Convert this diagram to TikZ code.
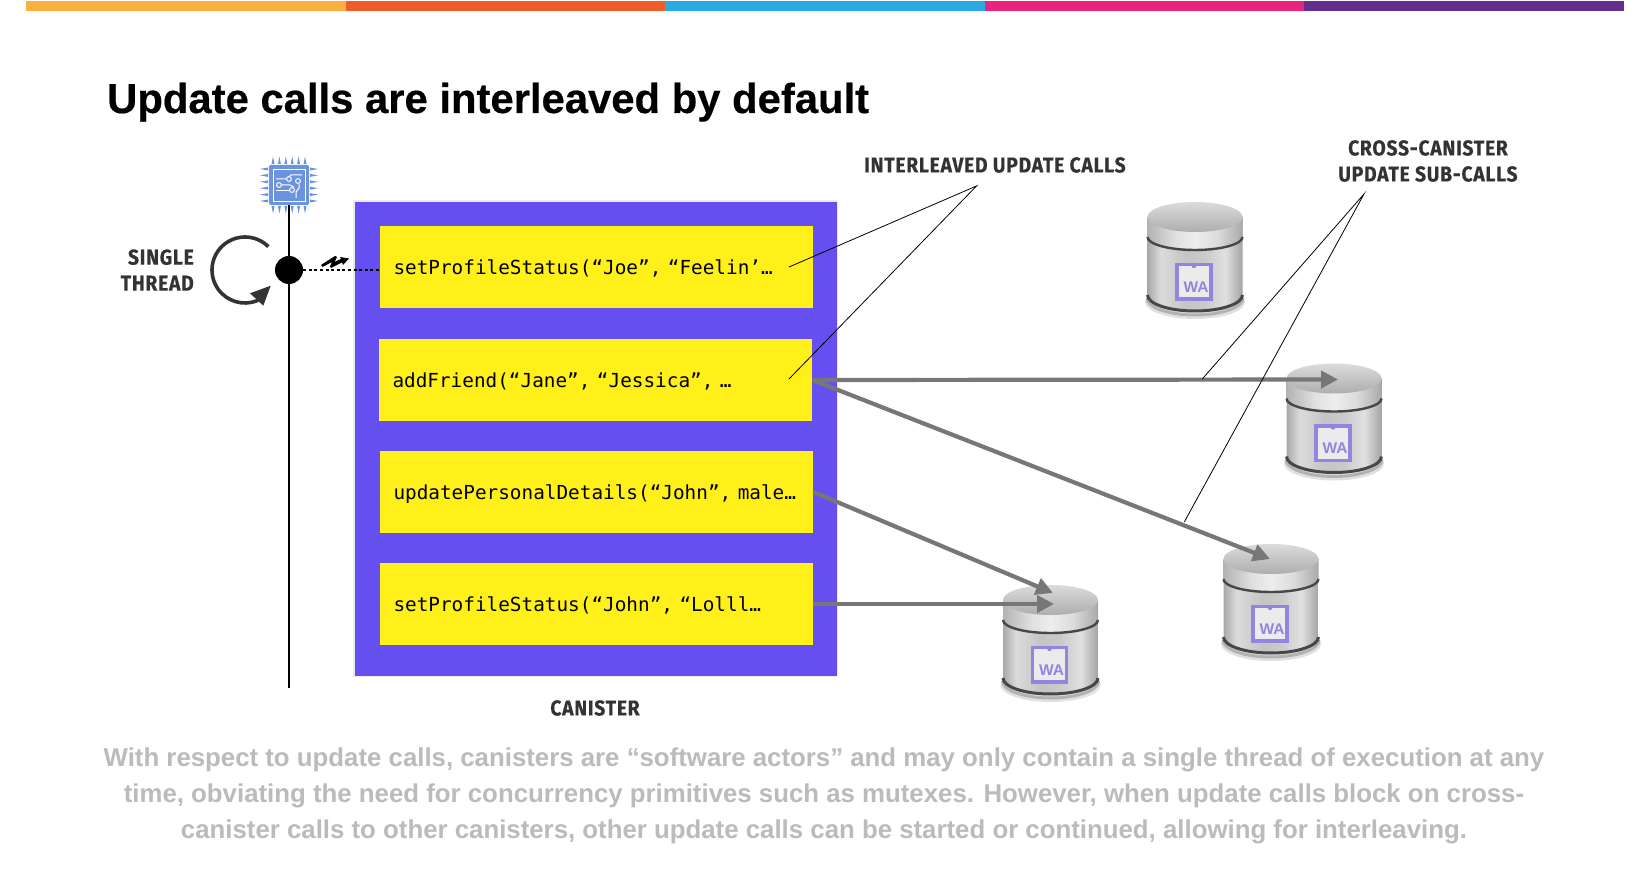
\documentclass[tikz,border=0pt]{standalone}
\usepackage{fontspec}
\setmainfont{Liberation Sans}
\setmonofont{DejaVu Sans Mono}
\newfontfamily\labelfont[FakeStretch=0.9,LetterSpace=3.4,BoldFeatures={FakeBold=0.3}]{Fira Sans}
\newfontfamily\titlefont[BoldFeatures={FakeBold=0.4}]{Liberation Sans}
\usetikzlibrary{arrows.meta}

\definecolor{barA}{HTML}{FBB040}
\definecolor{barB}{HTML}{F15A29}
\definecolor{barC}{HTML}{29ABE2}
\definecolor{barD}{HTML}{E8247F}
\definecolor{barE}{HTML}{662D91}
\definecolor{wapurple}{HTML}{654FF0}
\definecolor{callyellow}{HTML}{FFF01A}
\definecolor{chipblue}{HTML}{6C94DE}
\definecolor{bodygrey}{HTML}{BBBBBB}
\definecolor{labelgrey}{HTML}{333333}
\definecolor{arrowgrey}{HTML}{777777}
\definecolor{walogo}{HTML}{9484E0}

\pgfdeclarehorizontalshading{canbody}{100bp}{
  color(0bp)=(black!34); color(25bp)=(black!34); color(32bp)=(black!14);
  color(45bp)=(black!23); color(55bp)=(black!21); color(66bp)=(black!12);
  color(75bp)=(black!36); color(100bp)=(black!36)}
\pgfdeclarehorizontalshading{canlip}{100bp}{
  color(0bp)=(black!30); color(25bp)=(black!30); color(40bp)=(black!12);
  color(50bp)=(black!7); color(62bp)=(black!14);
  color(75bp)=(black!34); color(100bp)=(black!34)}

\tikzset{
  callbox/.style={fill=callyellow, minimum width=433.5pt, minimum height=82pt, inner sep=0pt,
    text width=406pt, text height=15.7pt, text depth=0pt, align=left, font=\ttfamily\fontsize{19.35}{19}\selectfont},
  tag/.style={inner sep=0pt, align=center, text=labelgrey, font=\labelfont\bfseries\fontsize{21.5}{26}\selectfont},
  subcall/.style={draw=arrowgrey, line width=4.2pt, -{Triangle[length=17pt,width=17pt]}},
  leader/.style={draw=black, line width=0.8pt},
  wacan/.pic={
    % shadow and bottom rim
    \fill[black!12] (0,85) ellipse (50 and 17);
    \draw[black!30, line width=3pt] (-48,81) arc[start angle=180,end angle=0,x radius=48,y radius=17];
    % body
    \path[shading=canbody] (-47.5,0) -- (-47.5,78) arc[start angle=180,end angle=0,x radius=47.5,y radius=16] -- (47.5,0) -- cycle;
    \draw[black!72, line width=3pt] (-47.5,78) arc[start angle=180,end angle=0,x radius=47.5,y radius=16];
    % lip and band
    \path[shading=canlip] (-47.5,0) -- (-47.5,20) arc[start angle=180,end angle=0,x radius=47.5,y radius=13] -- (47.5,0) -- cycle;
    \draw[black!72, line width=2.4pt] (-47.5,20) arc[start angle=180,end angle=0,x radius=47.5,y radius=13];
    % lid
    \path[top color=black!14, bottom color=black!32] (0,0) ellipse (47.5 and 15);
    % wasm badge
    \fill[black!8] (-19,46) rectangle (17,83);
    \draw[walogo, line width=3.6pt] (-18,47.5) rectangle (16,82);
    \fill[walogo] (-1,49) circle (2.2);
    \node[inner sep=0pt, text=walogo, font=\bfseries\fontsize{15.5}{16}\selectfont] (-label) at (1,70) {WA};
  }
}

\begin{document}
\begin{tikzpicture}[x=1pt,y=1pt,yscale=-1]
    \useasboundingbox[fill=white] (0,0) rectangle (1650,874);

    % colour strip
    \fill[barA] (26,1) rectangle (346,11);
    \fill[barB] (346,1) rectangle (665,11);
    \fill[barC] (665,1) rectangle (985,11);
    \fill[barD] (985,1) rectangle (1304,11);
    \fill[barE] (1304,1) rectangle (1624,11);

    % title
    \node[anchor=base west, inner sep=0pt, font=\titlefont\bfseries\fontsize{41.8}{41}\selectfont] (title) at (107,113) {Update calls are interleaved by default};

    % chip
    \foreach \p in {0,1,2,3,4,5} {
      \fill[chipblue] (271.5+\p*6.4,164) -- (274.5+\p*6.4,164) -- (273+\p*6.4,156.5) -- cycle;
      \fill[chipblue] (271.5+\p*6.4,206) -- (274.5+\p*6.4,206) -- (273+\p*6.4,213.5) -- cycle;
      \fill[chipblue] (268,167.5+\p*6.4) -- (268,170.5+\p*6.4) -- (260,169+\p*6.4) -- cycle;
      \fill[chipblue] (310,167.5+\p*6.4) -- (310,170.5+\p*6.4) -- (318,169+\p*6.4) -- cycle;
    }
    \fill[chipblue, rounded corners=1.5pt] (269,165) rectangle (309,205);
    \draw[white, line width=0.9pt] (273,169) rectangle (305,201);
    \draw[white, line width=1pt] (276,179) -- (286,179) -- (291,175) -- (302,175);
    \draw[white, line width=1pt] (276,191) -- (292,191);
    \draw[white, line width=1pt] (296,198) -- (296,192) -- (299,188) -- (299,184);
    \draw[white, line width=1pt] (282,185) -- (290,185) -- (294,187);
    \draw[white, line width=1pt, fill=chipblue] (279,185) circle (2.4);
    \draw[white, line width=1pt, fill=chipblue] (289,179) circle (2.4);
    \draw[white, line width=1pt, fill=chipblue] (298,181) circle (2.4);
    \draw[white, line width=1pt, fill=chipblue] (292,190) circle (2.4);
    \coordinate (chip) at (289,205);

    % thread line
    \coordinate (threadend) at (289,688);
    \node[circle, fill=black, minimum size=28pt, inner sep=0pt] (dot) at (289,270) {};
    \draw[black, line width=2pt] (chip) -- (threadend);

    % loop
    \draw[labelgrey, line width=3.6pt] (245,270) ++(-45:33) arc[start angle=-45,end angle=-300,radius=33];
    \fill[labelgrey] (250,293.3) -- (270.7,285.7) -- (263.3,305.7) -- cycle;
    \node[tag, anchor=east, align=right] (thread) at (194,270) {SINGLE\\THREAD};

    % canister
    \fill[black!8] (353,200) rectangle (838,677);
    \node[fill=wapurple, minimum width=482pt, minimum height=474pt, inner sep=0pt] (canister) at (595.5,439) {};
    \node[callbox] (callA) at (596.5,267) {setProfileStatus(“Joe”, “Feelin’…};
    \node[callbox] (callB) at (595.5,380) {addFriend(“Jane”, “Jessica”, …};
    \node[callbox] (callC) at (596.5,492) {updatePersonalDetails(“John”, male…};
    \node[callbox] (callD) at (596.5,604) {setProfileStatus(“John”, “Lolll…};
    \node[tag] (canlabel) at (595,708) {CANISTER};

    % dotted signal
    \draw[black, line width=1.6pt, dash pattern=on 3pt off 2.6pt] (dot.east) -- (dot.east -| callA.west);
    \fill[black] (321,265) -- (335,256) -- (337,257) -- (334.5,262) -- (341,259) -- (340,257) -- (349,258.5) -- (343,265) -- (342,262.5) -- (331,268) -- (330,266.5) -- (332,262) -- (322.5,267) -- cycle;

    % canisters on the right
    \pic[yscale=-1] (canE) at (1195,217) {wacan};
    \pic[yscale=-1] (canF) at (1334,378.5) {wacan};
    \pic[yscale=-1] (canG) at (1271,559) {wacan};
    \pic[yscale=-1] (canH) at (1050.5,600) {wacan};

    % sub calls
    \coordinate (tipF) at (1338,379.5);
    \coordinate (tipG) at (1270,559);
    \coordinate (tipH) at (1053,593);
    \coordinate (tipI) at (1054,604);
    \draw[subcall] (callB.east) -- (tipF);
    \draw[subcall] (callB.east) -- (tipG);
    \draw[subcall] (callC.east) -- (tipH);
    \draw[subcall] (callD.east) -- (tipI);

    % labels with leader lines
    \node[tag] (interlabel) at (995,165) {INTERLEAVED UPDATE CALLS};
    \coordinate (interapex) at (976.5,186);
    \coordinate (interA) at (789,267);
    \coordinate (interB) at (789,379);
    \draw[leader] (interA) -- (interapex) -- (interB);

    \node[tag] (crosslabel) at (1428,161) {CROSS-CANISTER\\UPDATE SUB-CALLS};
    \coordinate (crossapex) at (1364,194);
    \coordinate (crossA) at (1202.3,379);
    \coordinate (crossB) at (1184.3,522);
    \draw[leader] (crossA) -- (crossapex) -- (crossB);

    % footer
    \node[anchor=base, inner sep=0pt, text=bodygrey, align=center, font=\bfseries\fontsize{25.8}{36}\selectfont] (footer) at (824,838)
      {With respect to update calls, canisters are “software actors” and may only contain a single thread of execution at any\\
       time, obviating the need for concurrency primitives such as mutexes. However, when update calls block on cross-\\
       canister calls to other canisters, other update calls can be started or continued, allowing for interleaving.};
\end{tikzpicture}
\end{document}
